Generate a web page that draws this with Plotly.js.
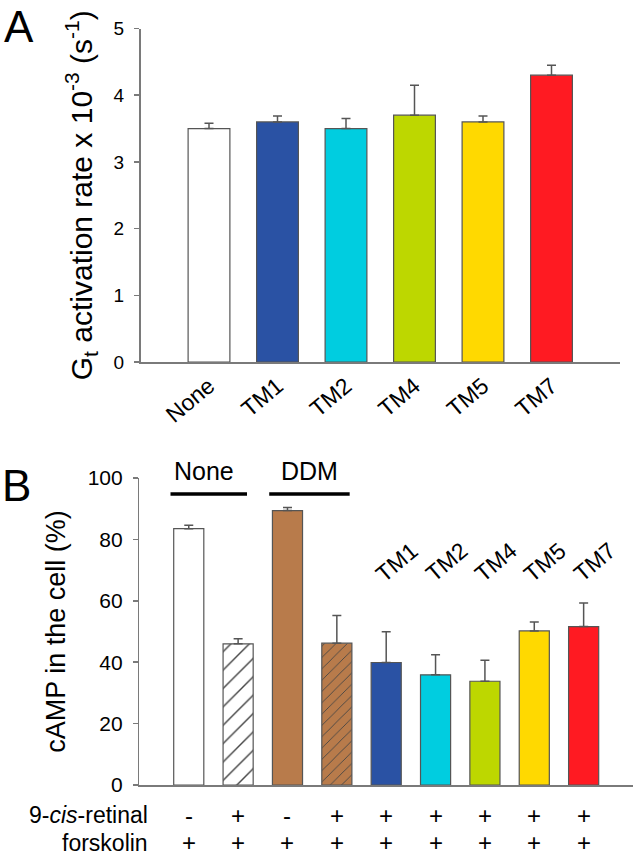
<!DOCTYPE html>
<html>
<head>
<meta charset="utf-8">
<script src="https://cdn.plot.ly/plotly-3.0.1.min.js"></script>
<style>html,body{margin:0;padding:0;background:#fff;}#chart{width:633px;height:858px;}</style>
</head>
<body>
<div id="chart"></div>
<script>
// ---- Panel A data ----
const topCats = ['None', 'TM1', 'TM2', 'TM4', 'TM5', 'TM7'];
const topVals = [3.5, 3.6, 3.5, 3.7, 3.6, 4.3];
const topErr = [0.08, 0.09, 0.15, 0.45, 0.09, 0.15];
const topColors = ['#ffffff', '#2a52a4', '#00cde0', '#bdd700', '#ffd900', '#ff1a22'];

// ---- Panel B data ----
const botCats = ['None (-)', 'None (+)', 'DDM (-)', 'DDM (+)', 'TM1', 'TM2', 'TM4', 'TM5', 'TM7'];
const botVals = [83.5, 46.0, 89.4, 46.2, 39.9, 35.9, 33.8, 50.2, 51.6];
const botErr = [1.1, 1.6, 1.0, 9.0, 10.0, 6.5, 6.8, 2.9, 7.7];
const botColors = ['#ffffff', '#ffffff', '#b87b4b', '#b87b4b', '#2a52a4', '#00cde0', '#bdd700', '#ffd900', '#ff1a22'];
const botHatch = ['', '/', '', '/', '', '', '', '', ''];
const botTopLabels = ['', '', '', '', 'TM1', 'TM2', 'TM4', 'TM5', 'TM7'];
const retinalSigns = ['-', '+', '-', '+', '+', '+', '+', '+', '+'];
const forskolinSigns = ['+', '+', '+', '+', '+', '+', '+', '+', '+'];
const groupLabels = ['None', 'DDM'];

const FONT = 'Liberation Sans, Arial, Helvetica, sans-serif';
const AX = '#7a7a7a';
const W = 633, H = 858;
const px2x = p => p / W;
const px2y = p => (H - p) / H;

const traces = [
  {
    type: 'bar', x: topCats, y: topVals, xaxis: 'x', yaxis: 'y',
    marker: { color: topColors, line: { color: '#555', width: 1.2 } },
    error_y: { type: 'data', symmetric: false, array: topErr, arrayminus: topErr.map(() => 0),
               color: '#555', thickness: 1.5, width: 4.5 },
    hoverinfo: 'x+y', showlegend: false
  },
  {
    type: 'bar', x: botCats, y: botVals, xaxis: 'x2', yaxis: 'y2',
    marker: { color: botColors, line: { color: '#555', width: 1.2 },
              pattern: { shape: botHatch, fgcolor: '#000', fgopacity: 1, size: [10, 13, 10, 8, 10, 10, 10, 10, 10],
                         solidity: 0.11, fillmode: 'overlay' } },
    error_y: { type: 'data', symmetric: false, array: botErr, arrayminus: botErr.map(() => 0),
               color: '#555', thickness: 1.5, width: 4.5 },
    hoverinfo: 'x+y', showlegend: false
  }
];

const annotations = [];
annotations.push({ text: 'A', xref: 'paper', yref: 'paper', x: px2x(2), y: px2y(0), xanchor: 'left', yanchor: 'top',
  showarrow: false, font: { family: FONT, size: 44, color: '#000' } });
annotations.push({ text: 'B', xref: 'paper', yref: 'paper', x: px2x(0), y: px2y(459), xanchor: 'left', yanchor: 'top',
  showarrow: false, font: { family: FONT, size: 44, color: '#000' } });

// group labels
const groupCenters = [0.3, 2.44];
groupLabels.forEach((g, i) => {
  annotations.push({ text: g, xref: 'x2', yref: 'paper', x: groupCenters[i], y: px2y(471), yanchor: 'middle', xanchor: 'center',
    showarrow: false, font: { family: FONT, size: 25, color: '#000' } });
});
// rotated TM labels + sign rows
botCats.forEach((c, i) => {
  if (botTopLabels[i]) {
    annotations.push({ text: botTopLabels[i], xref: 'x2', yref: 'y2', x: c, y: 72.5, xshift: 11,
      textangle: -40, showarrow: false, font: { family: FONT, size: 23, color: '#000' } });
  }
  annotations.push({ text: retinalSigns[i], xref: 'x2', yref: 'paper', x: c, y: px2y(815), yanchor: 'middle',
    showarrow: false, font: { family: FONT, size: 24, color: '#000' } });
  annotations.push({ text: forskolinSigns[i], xref: 'x2', yref: 'paper', x: c, y: 0, yanchor: 'bottom',
    showarrow: false, font: { family: FONT, size: 24, color: '#000' } });
});
annotations.push({ text: '9-<i>cis</i>-retinal', xref: 'paper', yref: 'paper', x: px2x(150), y: px2y(815), xanchor: 'right', yanchor: 'middle',
  showarrow: false, font: { family: FONT, size: 23, color: '#000' } });
annotations.push({ text: 'forskolin', xref: 'paper', yref: 'paper', x: px2x(150), y: 0, xanchor: 'right', yanchor: 'bottom',
  showarrow: false, font: { family: FONT, size: 23, color: '#000' } });

const shapes = [
  { type: 'line', xref: 'x2', yref: 'paper', x0: -0.37, x1: 1.18, y0: px2y(494), y1: px2y(494), line: { color: '#000', width: 3.5 } },
  { type: 'line', xref: 'x2', yref: 'paper', x0: 1.63, x1: 3.26, y0: px2y(494), y1: px2y(494), line: { color: '#000', width: 3.5 } }
];

const layout = {
  width: W, height: H,
  margin: { l: 0, r: 0, t: 0, b: 0 },
  paper_bgcolor: '#fff', plot_bgcolor: '#fff',
  font: { family: FONT, color: '#000' },
  bargap: 0.39,
  showlegend: false,
  xaxis: {
    domain: [px2x(140.5), px2x(620)], anchor: 'y', type: 'category', range: [-1, 6],
    showline: true, linecolor: AX, linewidth: 1.5, ticks: '', showgrid: false, zeroline: false,
    tickangle: -40, tickfont: { family: FONT, size: 23, color: '#000' }
  },
  yaxis: {
    domain: [px2y(362), px2y(28.5)], anchor: 'x', range: [0, 5], tickvals: [0, 1, 2, 3, 4, 5],
    showline: true, linecolor: AX, linewidth: 1.5, ticks: 'outside', ticklen: 5, tickcolor: AX, tickwidth: 1.5,
    showgrid: false, zeroline: false, tickfont: { family: FONT, size: 19, color: '#000' }, ticklabelstandoff: 6,
    title: { text: 'G<sub>t</sub> activation rate x 10<sup>-3</sup> (s<sup>-1</sup>)', font: { family: FONT, size: 30, color: '#000' }, standoff: 12 }
  },
  xaxis2: {
    domain: [px2x(139.4), 1], anchor: 'y2', type: 'category', range: [-1, 9],
    showline: true, linecolor: AX, linewidth: 1.5, ticks: '', showgrid: false, zeroline: false, showticklabels: false
  },
  yaxis2: {
    domain: [px2y(785), px2y(478)], anchor: 'x2', range: [0, 100], tickvals: [0, 20, 40, 60, 80, 100],
    showline: true, linecolor: AX, linewidth: 1.5, ticks: 'outside', ticklen: 5, tickcolor: AX, tickwidth: 1.5,
    showgrid: false, zeroline: false, tickfont: { family: FONT, size: 21, color: '#000' }, ticklabelstandoff: 6,
    title: { text: 'cAMP in the cell (%)', font: { family: FONT, size: 27, color: '#000' }, standoff: 14 }
  },
  annotations: annotations,
  shapes: shapes
};

Plotly.newPlot('chart', traces, layout, { displayModeBar: false, staticPlot: true });
</script>
</body>
</html>
